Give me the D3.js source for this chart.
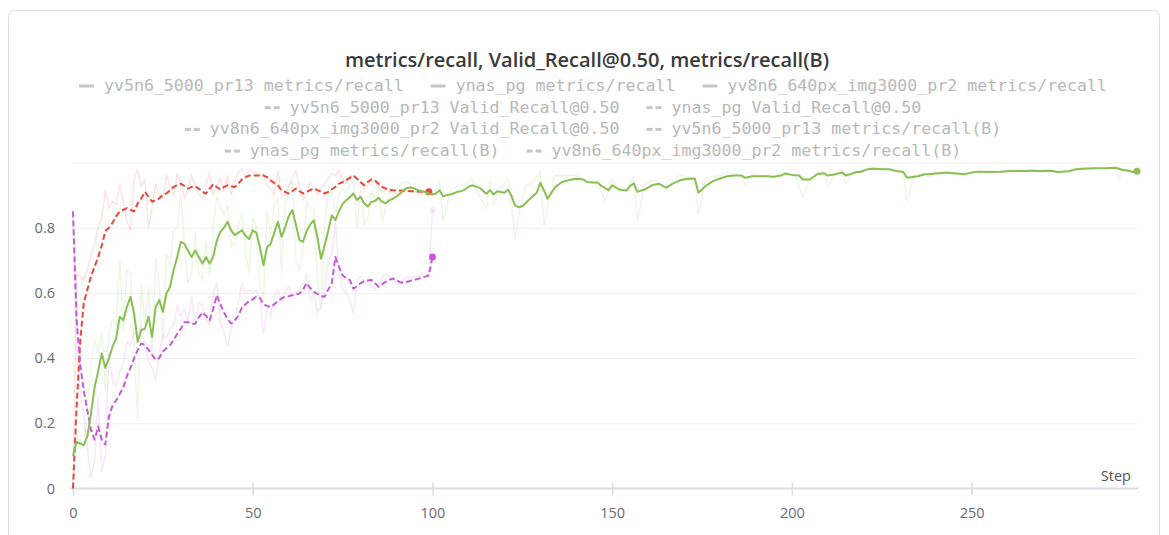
<!DOCTYPE html>
<head>
  <meta charset="utf-8">
  <title>metrics/recall</title>
  <script src="https://d3js.org/d3.v7.min.js"></script>
  <style>
    body { margin: 0; background: #fff; }
    svg { display: block; }
    .title { font-family: "Open Sans", sans-serif; font-weight: 600; font-size: 20px; fill: #3a3a3a; }
    .legend text { font-family: "DejaVu Sans Mono", monospace; font-size: 16.6px; fill: #b8b8b8; }
    .axis text { font-family: "Open Sans", sans-serif; font-size: 14.5px; fill: #6b6b73; }
    .axis path { display: none; }
    .grid line { stroke: #f0f0f2; stroke-width: 1px; }
    .grid path { display: none; }
  </style>
</head>
<body>
<script>
// chart data (step index = array index unless paired)
var redSmooth = [0.0, 0.25, 0.45, 0.57, 0.61, 0.65, 0.68, 0.71, 0.745, 0.79,
  0.80, 0.815, 0.835, 0.85, 0.855, 0.86, 0.855, 0.85, 0.875, 0.89,
  0.91, 0.895, 0.88, 0.885, 0.89, 0.90, 0.905, 0.915, 0.925, 0.93,
  0.935, 0.928, 0.92, 0.925, 0.927, 0.92, 0.91, 0.905, 0.92, 0.933,
  0.925, 0.917, 0.925, 0.93, 0.927, 0.925, 0.935, 0.948, 0.955, 0.96,
  0.96, 0.96, 0.96, 0.96, 0.955, 0.945, 0.937, 0.93, 0.915, 0.91,
  0.905, 0.912, 0.92, 0.912, 0.905, 0.91, 0.915, 0.92, 0.915, 0.91,
  0.905, 0.91, 0.918, 0.925, 0.935, 0.94, 0.946, 0.953, 0.96, 0.95,
  0.94, 0.93, 0.94, 0.948, 0.945, 0.935, 0.925, 0.92, 0.917, 0.915,
  0.914, 0.914, 0.913, 0.913, 0.912, 0.912, 0.911, 0.91, 0.91, 0.91];

var redRaw = [0.0, 0.66, 0.65, 0.64, 0.67, 0.72, 0.75, 0.80, 0.83, 0.915,
  0.86, 0.88, 0.87, 0.935, 0.88, 0.82, 0.79, 0.95, 0.976, 0.93,
  0.946, 0.80, 0.86, 0.935, 0.90, 0.89, 0.96, 0.93, 0.90, 0.965,
  0.94, 0.89, 0.92, 0.96, 0.93, 0.90, 0.89, 0.93, 0.97, 0.90,
  0.93, 0.95, 0.91, 0.96, 0.90, 0.94, 0.97, 0.98, 0.96, 0.975,
  0.97, 0.97, 0.96, 0.965, 0.93, 0.92, 0.90, 0.975, 0.895, 0.90,
  0.93, 0.95, 0.976, 0.93, 0.885, 0.90, 0.94, 0.92, 0.90, 0.92,
  0.935, 0.95, 0.966, 0.96, 0.976, 0.95, 0.94, 0.96, 0.96, 0.955,
  0.94, 0.92, 0.93, 0.95, 0.94, 0.925, 0.91, 0.915, 0.91, 0.91,
  0.905, 0.91, 0.912, 0.91, 0.91, 0.912, 0.908, 0.91, 0.91, 0.91];

var purpleSmooth = [0.85, 0.52, 0.38, 0.30, 0.24, 0.18, 0.15, 0.19, 0.15, 0.135,
  0.22, 0.255, 0.27, 0.29, 0.31, 0.345, 0.37, 0.40, 0.425, 0.445,
  0.44, 0.425, 0.41, 0.395, 0.40, 0.42, 0.43, 0.44, 0.455, 0.475,
  0.49, 0.51, 0.51, 0.505, 0.505, 0.525, 0.54, 0.53, 0.516, 0.55,
  0.593, 0.565, 0.54, 0.52, 0.506, 0.515, 0.53, 0.555, 0.565, 0.575,
  0.58, 0.588, 0.585, 0.565, 0.56, 0.557, 0.565, 0.575, 0.583, 0.588,
  0.59, 0.593, 0.595, 0.598, 0.61, 0.63, 0.615, 0.603, 0.597, 0.59,
  0.588, 0.61, 0.63, 0.71, 0.68, 0.654, 0.645, 0.64, 0.613, 0.62,
  0.63, 0.635, 0.638, 0.64, 0.63, 0.619, 0.627, 0.634, 0.64, 0.644,
  0.638, 0.633, 0.631, 0.634, 0.637, 0.64, 0.643, 0.647, 0.65, 0.654,
  0.71];

var purpleRaw = [0.85, 0.42, 0.30, 0.22, 0.12, 0.03, 0.09, 0.28, 0.05, 0.10,
  0.42, 0.33, 0.31, 0.36, 0.38, 0.45, 0.44, 0.48, 0.47, 0.50,
  0.43, 0.39, 0.37, 0.33, 0.41, 0.47, 0.46, 0.49, 0.50, 0.56,
  0.53, 0.55, 0.51, 0.59, 0.50, 0.57, 0.56, 0.52, 0.50, 0.60,
  0.63, 0.51, 0.48, 0.435, 0.49, 0.52, 0.57, 0.63, 0.60, 0.61,
  0.60, 0.61, 0.57, 0.475, 0.55, 0.53, 0.59, 0.61, 0.57, 0.60,
  0.62, 0.59, 0.60, 0.61, 0.63, 0.654, 0.58, 0.60, 0.54, 0.56,
  0.62, 0.70, 0.72, 0.818, 0.66, 0.61, 0.60, 0.58, 0.537, 0.64,
  0.65, 0.64, 0.63, 0.62, 0.61, 0.62, 0.65, 0.66, 0.65, 0.63,
  0.64, 0.63, 0.64, 0.65, 0.64, 0.65, 0.65, 0.66, 0.66, 0.655,
  0.855];

var greenSmooth = [0.10, 0.143, 0.138, 0.133, 0.16, 0.23, 0.31, 0.36, 0.414, 0.37,
  0.40, 0.435, 0.46, 0.527, 0.516, 0.557, 0.588, 0.537, 0.45, 0.486,
  0.49, 0.527, 0.465, 0.557, 0.578, 0.542, 0.598, 0.619, 0.67, 0.71,
  0.757, 0.75, 0.73, 0.71, 0.73, 0.71, 0.69, 0.71, 0.69, 0.71,
  0.76, 0.787, 0.80, 0.818, 0.792, 0.777, 0.785, 0.792, 0.775, 0.765,
  0.792, 0.785, 0.74, 0.685, 0.741, 0.751, 0.785, 0.818, 0.772, 0.80,
  0.835, 0.854, 0.81, 0.762, 0.757, 0.79, 0.81, 0.823, 0.77, 0.705,
  0.745, 0.79, 0.838, 0.823, 0.85, 0.873, 0.884, 0.893, 0.905, 0.885,
  0.895, 0.875, 0.865, 0.879, 0.882, 0.892, 0.88, 0.875, 0.884, 0.889,
  0.896, 0.905, 0.915, 0.922, 0.923, 0.92, 0.915, 0.912, 0.91, 0.905,
  0.902, 0.905, 0.915, 0.896, 0.90];

var greenSmoothTail = [[105, 0.902], [107, 0.91], [108, 0.912], [109, 0.917], [110, 0.925],
  [111, 0.93], [113, 0.923], [115, 0.904], [116, 0.915], [117, 0.902], [118, 0.912],
  [120, 0.907], [121, 0.917], [122, 0.897], [123, 0.868], [124, 0.863], [125, 0.866],
  [127, 0.887], [129, 0.907], [130, 0.938], [131, 0.915], [132, 0.889], [134, 0.923],
  [136, 0.94], [138, 0.946], [140, 0.95], [142, 0.948], [143, 0.94], [146, 0.938],
  [147, 0.928], [149, 0.915], [150, 0.93], [152, 0.917], [154, 0.914], [155, 0.928],
  [156, 0.936], [157, 0.91], [159, 0.917], [161, 0.93], [163, 0.935], [165, 0.923],
  [167, 0.936], [169, 0.946], [171, 0.95], [173, 0.95], [174, 0.907], [176, 0.928],
  [178, 0.943], [180, 0.951], [182, 0.958], [184, 0.96], [186, 0.96], [187, 0.953],
  [189, 0.958], [191, 0.958], [193, 0.958], [195, 0.956], [197, 0.96], [198, 0.966],
  [200, 0.962], [202, 0.96], [203, 0.948], [205, 0.948], [207, 0.964], [209, 0.967],
  [210, 0.96], [212, 0.964], [214, 0.969], [215, 0.96], [217, 0.967], [218, 0.971],
  [219, 0.971], [221, 0.979], [223, 0.981], [225, 0.979], [227, 0.979], [229, 0.974],
  [231, 0.971], [232, 0.953], [235, 0.958], [237, 0.964], [238, 0.964], [241, 0.967],
  [243, 0.969], [245, 0.967], [248, 0.964], [250, 0.969], [252, 0.972], [255, 0.971],
  [258, 0.972], [261, 0.974], [264, 0.974], [266, 0.975], [269, 0.974], [272, 0.975],
  [274, 0.971], [277, 0.973], [279, 0.979], [281, 0.981], [284, 0.982], [287, 0.982],
  [290, 0.984], [291, 0.981], [292, 0.977], [293, 0.976], [295, 0.971], [296, 0.973]];

var greenRaw = [0.10, 0.18, 0.12, 0.13, 0.25, 0.38, 0.45, 0.42, 0.48, 0.30,
  0.48, 0.52, 0.50, 0.70, 0.48, 0.67, 0.66, 0.42, 0.21, 0.63,
  0.50, 0.62, 0.40, 0.71, 0.62, 0.45, 0.72, 0.68, 0.79, 0.80,
  0.905, 0.75, 0.63, 0.66, 0.79, 0.66, 0.64, 0.76, 0.65, 0.80,
  0.895, 0.86, 0.84, 0.87, 0.74, 0.75, 0.81, 0.84, 0.72, 0.66,
  0.83, 0.80, 0.62, 0.58, 0.85, 0.78, 0.87, 0.89, 0.66, 0.87,
  0.92, 0.946, 0.70, 0.67, 0.74, 0.88, 0.86, 0.86, 0.64, 0.547,
  0.81, 0.90, 0.92, 0.84, 0.90, 0.92, 0.91, 0.93, 0.94, 0.80,
  0.92, 0.81, 0.83, 0.91, 0.89, 0.92, 0.818, 0.86, 0.91, 0.90,
  0.92, 0.935, 0.94, 0.94, 0.93, 0.91, 0.905, 0.905, 0.90, 0.89,
  0.90];

var greenRawTail = [[102, 0.94], [103, 0.82], [105, 0.91], [107, 0.93], [109, 0.93],
  [111, 0.95], [113, 0.90], [115, 0.86], [116, 0.94], [117, 0.87], [119, 0.92],
  [121, 0.95], [122, 0.87], [123, 0.764], [124, 0.84], [126, 0.93], [128, 0.94],
  [130, 0.97], [131, 0.805], [132, 0.86], [134, 0.96], [136, 0.96], [138, 0.96],
  [140, 0.96], [142, 0.95], [144, 0.935], [146, 0.94], [148, 0.88], [150, 0.95],
  [152, 0.91], [154, 0.92], [156, 0.955], [157, 0.82], [159, 0.93], [161, 0.945],
  [163, 0.94], [165, 0.91], [167, 0.95], [169, 0.96], [171, 0.955], [173, 0.955],
  [174, 0.84], [176, 0.95], [178, 0.955], [180, 0.96], [182, 0.965], [184, 0.965],
  [186, 0.96], [187, 0.93], [189, 0.965], [191, 0.96], [193, 0.96], [195, 0.955],
  [197, 0.965], [199, 0.97], [201, 0.96], [203, 0.892], [205, 0.95], [207, 0.97],
  [209, 0.97], [210, 0.93], [212, 0.965], [214, 0.975], [215, 0.935], [217, 0.97],
  [219, 0.975], [221, 0.985], [223, 0.985], [225, 0.98], [227, 0.98], [229, 0.975],
  [231, 0.975], [232, 0.88], [234, 0.96], [236, 0.965], [238, 0.955], [240, 0.97],
  [242, 0.97], [244, 0.965], [246, 0.965], [248, 0.96], [250, 0.972], [252, 0.975],
  [254, 0.97], [256, 0.975], [258, 0.97], [260, 0.975], [262, 0.975], [264, 0.972],
  [266, 0.977], [268, 0.975], [270, 0.975], [272, 0.977], [274, 0.968], [276, 0.974],
  [278, 0.98], [280, 0.983], [282, 0.983], [284, 0.983], [286, 0.982], [288, 0.984],
  [290, 0.985], [291, 0.948], [292, 0.975], [294, 0.97], [296, 0.973]];

var xTicks = [0, 50, 100, 150, 200, 250];
var yTicks = [0, 0.2, 0.4, 0.6, 0.8];
var gridValues = [0.2, 0.4, 0.6, 0.8, 1.0];

var titleText = "metrics/recall, Valid_Recall@0.50, metrics/recall(B)";
var legendRows = [
  [["yv5n6_5000_pr13 metrics/recall", "solid"], ["ynas_pg metrics/recall", "solid"], ["yv8n6_640px_img3000_pr2 metrics/recall", "solid"]],
  [["yv5n6_5000_pr13 Valid_Recall@0.50", "dash"], ["ynas_pg Valid_Recall@0.50", "dash"]],
  [["yv8n6_640px_img3000_pr2 Valid_Recall@0.50", "dash"], ["yv5n6_5000_pr13 metrics/recall(B)", "dash"]],
  [["ynas_pg metrics/recall(B)", "dash"], ["yv8n6_640px_img3000_pr2 metrics/recall(B)", "dash"]]
];

var W = 1169, H = 535;

var svg = d3.select("body").append("svg")
  .attr("width", W)
  .attr("height", H);

// panel frame
svg.append("rect")
  .attr("x", 8.5).attr("y", 10.5)
  .attr("width", 1151).attr("height", 540)
  .attr("rx", 6)
  .attr("fill", "#fff")
  .attr("stroke", "#dedede");

var x = d3.scaleLinear().domain([0, 296]).range([73, 1137]);
var y = d3.scaleLinear().domain([0, 1]).range([488.5, 162.5]);

// title
svg.append("text")
  .attr("class", "title")
  .attr("x", 587).attr("y", 67)
  .attr("text-anchor", "middle")
  .text(titleText);

// legend, one centred row at a time
var legend = svg.append("g").attr("class", "legend");
legendRows.forEach(function(row, r) {
  var g = legend.append("g");
  var cx = 0;
  row.forEach(function(item, i) {
    if (i > 0) cx += 27;
    var icon = g.append("g").attr("transform", "translate(" + cx + ",0)");
    if (item[1] == "solid") {
      icon.append("line").attr("x1", 0).attr("x2", 15);
    } else {
      icon.append("line").attr("x1", 0).attr("x2", 6);
      icon.append("line").attr("x1", 9).attr("x2", 15);
    }
    icon.selectAll("line")
      .attr("y1", -5).attr("y2", -5)
      .attr("stroke", "#c6c6c6")
      .attr("stroke-width", 3);
    var t = g.append("text")
      .attr("x", cx + 25)
      .text(item[0]);
    cx += 25 + t.node().getComputedTextLength();
  });
  g.attr("transform", "translate(" + (593 - cx / 2) + "," + (91 + r * 21.7) + ")");
});

// grid
svg.append("g")
  .attr("class", "grid")
  .attr("transform", "translate(73,0)")
  .call(d3.axisLeft(y).tickValues(gridValues).tickSize(-1064).tickFormat(""));

// x axis
var xAxis = svg.append("g")
  .attr("class", "axis")
  .attr("transform", "translate(0," + y(0) + ")")
  .call(d3.axisBottom(x).tickValues(xTicks).tickSize(0).tickPadding(19));
xAxis.append("line")
  .attr("x1", 70).attr("x2", 1138)
  .attr("stroke", "#dcdde2")
  .attr("stroke-width", 2);
xAxis.selectAll(".tick line")
  .attr("y1", -6).attr("y2", 7)
  .attr("stroke", "#dcdde2")
  .attr("stroke-width", 1.5);
xAxis.append("text")
  .attr("x", 1131).attr("y", -8)
  .attr("text-anchor", "end")
  .style("fill", "#555")
  .text("Step");

// y axis
svg.append("g")
  .attr("class", "axis")
  .attr("transform", "translate(55,0)")
  .call(d3.axisLeft(y).tickValues(yTicks).tickSize(0).tickPadding(0)
    .tickFormat(function(d) { return d === 0 ? "0" : d3.format(".1f")(d); }));

var line = d3.line()
  .x(function(d) { return x(d[0]); })
  .y(function(d) { return y(d[1]); });

function pairs(values) {
  return values.map(function(v, i) { return [i, v]; });
}

var runs = [
  {raw: pairs(redRaw), smooth: pairs(redSmooth), color: "#e4493f", dash: "6,3"},
  {raw: pairs(purpleRaw), smooth: pairs(purpleSmooth), color: "#c55bd5", dash: "6,3"},
  {raw: pairs(greenRaw).concat(greenRawTail), smooth: pairs(greenSmooth).concat(greenSmoothTail), color: "#89c053", dash: null}
];

var plot = svg.append("g");

runs.forEach(function(run) {
  plot.append("path")
    .datum(run.raw)
    .attr("fill", "none")
    .attr("stroke", run.color)
    .attr("stroke-opacity", 0.14)
    .attr("stroke-width", 1.5)
    .attr("d", line);
  var last = run.raw[run.raw.length - 1];
  plot.append("circle")
    .attr("cx", x(last[0])).attr("cy", y(last[1]))
    .attr("r", 3)
    .attr("fill", run.color)
    .attr("fill-opacity", 0.14);
});

runs.forEach(function(run) {
  plot.append("path")
    .datum(run.smooth)
    .attr("fill", "none")
    .attr("stroke", run.color)
    .attr("stroke-width", 2)
    .attr("stroke-linejoin", "round")
    .attr("stroke-dasharray", run.dash)
    .attr("d", line);
  var last = run.smooth[run.smooth.length - 1];
  plot.append("circle")
    .attr("cx", x(last[0])).attr("cy", y(last[1]))
    .attr("r", 3.5)
    .attr("fill", run.color);
});
</script>
</body>
